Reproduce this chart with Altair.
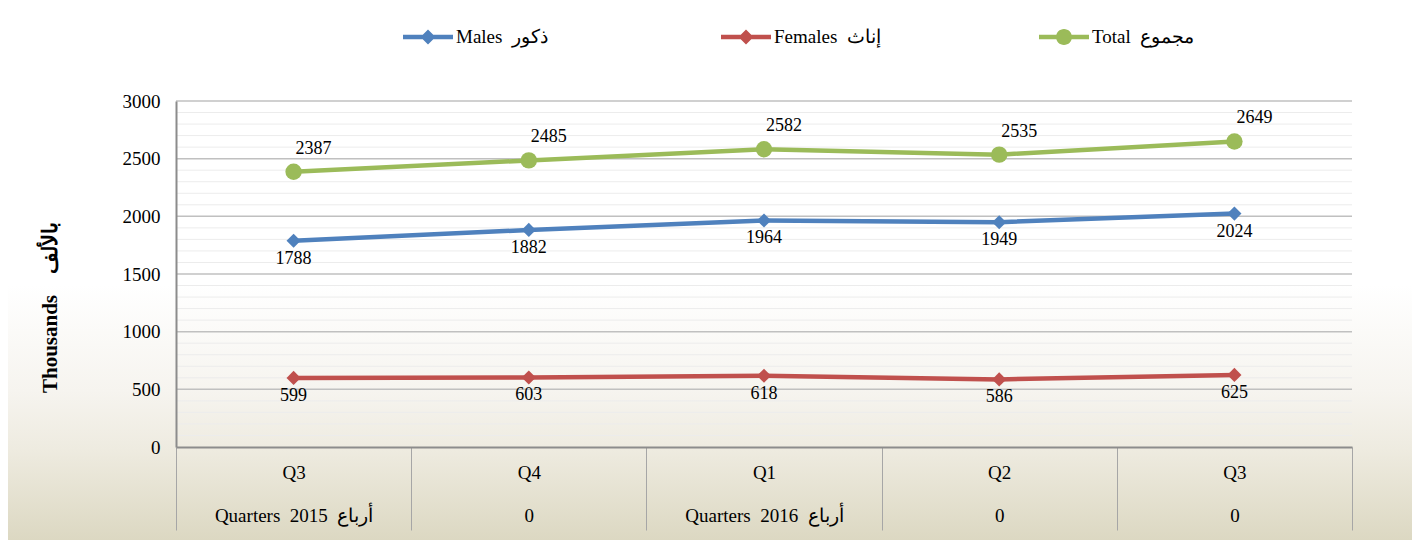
import altair as alt
import pandas as pd

NB = "\u00a0"
quarters = ["Q3", "Q4", "Q1", "Q2", "Q3"]
year_row = [f"Quarters{NB} 2015{NB} أرباع", "0", f"Quarters{NB} 2016{NB} أرباع", "0", "0"]
series_names = [f"Males{NB} ذكور", f"Females{NB} إناث", f"Total{NB} مجموع"]
males = [1788, 1882, 1964, 1949, 2024]
females = [599, 603, 618, 586, 625]
total = [2387, 2485, 2582, 2535, 2649]
y_ticks = [0, 500, 1000, 1500, 2000, 2500, 3000]
major_grid = [500, 1000, 1500, 2000, 2500, 3000]
minor_grid = [v for v in range(100, 3001, 100) if v % 500]
colors = ["#4f81bd", "#c0504d", "#9bbb59"]

FONT = "Liberation Serif"
W, H = 1176, 346

cats = [f"{q}|{r}" for q, r in zip(quarters, year_row)]
rows = []
for s, vals in zip(series_names, [males, females, total]):
    for c, v in zip(cats, vals):
        rows.append({"cat": c, "series": s, "value": v})
df = pd.DataFrame(rows)

yscale = alt.Scale(domain=[0, 3000], nice=False)
xscale = alt.Scale(type="band", domain=cats, paddingInner=0, paddingOuter=0)

x_axis = alt.Axis(
    title=None,
    labelExpr="split(datum.label, '|')",
    labelAngle=0,
    tickBand="extent",
    tickSize=83,
    tickColor="#a6a6a6",
    tickWidth=1,
    domainColor="#8c8c8c",
    domainWidth=2,
    labelPadding=-67,
    labelLineHeight=43,
    labelBaseline="top",
    labelFont=FONT,
    labelFontSize=19,
    labelColor="black",
    labelLimit=400,
    grid=False,
    zindex=1,
)
y_axis = alt.Axis(
    values=y_ticks,
    format="d",
    title=f"Thousands{NB}{NB}{NB} بالألف",
    grid=False,
    ticks=False,
    domainColor="#8c8c8c",
    domainWidth=2,
    labelPadding=16,
    labelFont=FONT,
    labelFontSize=19,
    labelColor="black",
    titleFont=FONT,
    titleFontSize=21,
    titleFontWeight="bold",
    titleColor="black",
    titleX=-126,
    titleY=206,
    titleAngle=270,
    titleAlign="center",
    titleBaseline="middle",
    titleLimit=400,
    zindex=1,
)


def X():
    return alt.X("cat:N", sort=cats, scale=xscale, axis=x_axis)


def Y(field="value:Q"):
    return alt.Y(field, scale=yscale, axis=y_axis)


line_path = "M-1,-0.09H1V0.09H-1Z"
diamond_path = "M0,-0.3L0.3,0L0,0.3L-0.3,0Z"
circle_path = "M-0.32,0A0.32,0.32 0 1,1 0.32,0A0.32,0.32 0 1,1 -0.32,0Z"
shape_expr = (
    f"datum.value == '{series_names[2]}' ? '{line_path}{circle_path}' : '{line_path}{diamond_path}'"
)

legend = alt.Legend(
    title=None,
    orient="none",
    legendX=227,
    legendY=-89,
    direction="horizontal",
    gridAlign="all",
    columnPadding=158,
    symbolSize=2500,
    symbolType=alt.ExprRef(expr=shape_expr),
    symbolFillColor=alt.ExprRef(expr="scale('color', datum.value)"),
    symbolStrokeWidth=0,
    symbolOpacity=1,
    padding=0,
    labelFont=FONT,
    labelFontSize=19,
    labelFontWeight="normal",
    labelColor="black",
    labelOffset=3,
    labelLimit=300,
)

color_scale = alt.Scale(domain=series_names, range=colors)

gradient = alt.LinearGradient(
    gradient="linear",
    stops=[
        alt.GradientStop(offset=0, color="#ffffff"),
        alt.GradientStop(offset=0.52, color="#ffffff"),
        alt.GradientStop(offset=0.72, color="#f6f4ef"),
        alt.GradientStop(offset=0.83, color="#eeebe0"),
        alt.GradientStop(offset=1, color="#dcd8c2"),
    ],
    x1=0, x2=0, y1=0, y2=1,
)

bg = alt.Chart(pd.DataFrame({"d": [0]})).mark_rect(fill=gradient, strokeWidth=0).encode(
    x=alt.value(-168), x2=alt.value(W + 60), y=alt.value(-93), y2=alt.value(H + 93)
)

minor = alt.Chart(pd.DataFrame({"v": minor_grid})).mark_rule(color="#ececec", strokeWidth=1).encode(
    y=Y("v:Q"), x=alt.value(0), x2=alt.value(W)
)
major = alt.Chart(pd.DataFrame({"v": major_grid})).mark_rule(color="#c0c0c0", strokeWidth=1.5).encode(
    y=Y("v:Q"), x=alt.value(0), x2=alt.value(W)
)

base = alt.Chart(df)
lines = base.mark_line(strokeWidth=4.5).encode(
    x=X(), y=Y(),
    color=alt.Color("series:N", scale=color_scale, legend=legend, sort=series_names),
    detail="series:N",
)
points_d = base.transform_filter(alt.datum.series != series_names[2]).mark_point(
    filled=True, opacity=1, shape="diamond", size=200
).encode(
    x=X(), y=Y(),
    color=alt.Color("series:N", scale=color_scale, legend=None),
)
points_c = base.transform_filter(alt.datum.series == series_names[2]).mark_point(
    filled=True, opacity=1, shape="circle", size=270
).encode(
    x=X(), y=Y(),
    color=alt.Color("series:N", scale=color_scale, legend=None),
)
text_total = base.transform_filter(alt.datum.series == series_names[2]).mark_text(
    dx=20, dy=-23, font=FONT, fontSize=18, color="black"
).encode(x=X(), y=Y(), text="value:Q")
text_other = base.transform_filter(alt.datum.series != series_names[2]).mark_text(
    dy=18, font=FONT, fontSize=18, color="black"
).encode(x=X(), y=Y(), text="value:Q")

chart = alt.layer(bg, minor, major, lines, points_d, points_c, text_total, text_other).properties(
    width=W,
    height=H,
    autosize=alt.AutoSizeParams(type="none"),
    padding={"left": 168, "top": 93, "right": 60, "bottom": 93},
).configure_view(strokeWidth=0)

chart.save("out.html", embed_options={"renderer": "svg", "actions": False})
